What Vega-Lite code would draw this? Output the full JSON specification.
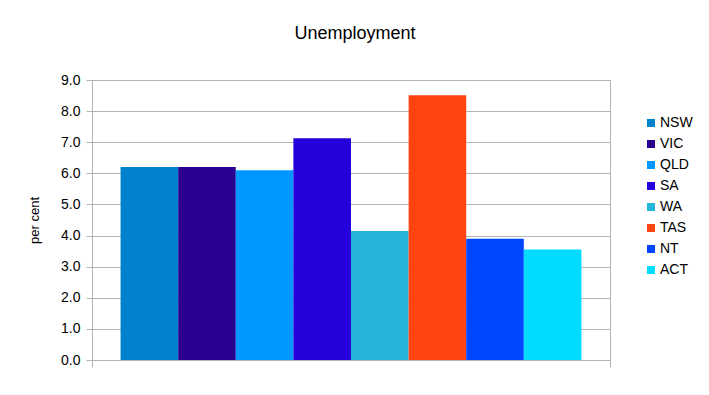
{
  "$schema": "https://vega.github.io/schema/vega-lite/v6.json",
  "width": 518,
  "height": 280,
  "autosize": {"type": "none"},
  "padding": {"left": 92, "top": 80, "right": 99, "bottom": 35},
  "background": "white",
  "config": {
    "font": "Liberation Sans",
    "view": {"stroke": "#b3b3b3", "strokeWidth": 1}
  },
  "title": {
    "text": "Unemployment",
    "fontSize": 18,
    "fontWeight": "normal",
    "color": "#000000",
    "font": "Liberation Sans",
    "anchor": "middle",
    "dx": 4,
    "offset": 30
  },
  "data": {
    "values": [
      {"group": "all", "state": "NSW", "rate": 6.2},
      {"group": "all", "state": "VIC", "rate": 6.2},
      {"group": "all", "state": "QLD", "rate": 6.1},
      {"group": "all", "state": "SA", "rate": 7.13},
      {"group": "all", "state": "WA", "rate": 4.15},
      {"group": "all", "state": "TAS", "rate": 8.51},
      {"group": "all", "state": "NT", "rate": 3.9},
      {"group": "all", "state": "ACT", "rate": 3.55}
    ]
  },
  "mark": {"type": "bar"},
  "encoding": {
    "x": {
      "field": "group",
      "type": "nominal",
      "scale": {"paddingInner": 0, "paddingOuter": 0},
      "axis": {
        "title": null,
        "labels": false,
        "ticks": true,
        "tickBand": "extent",
        "tickSize": 7,
        "tickColor": "#b3b3b3",
        "domainColor": "#b3b3b3"
      }
    },
    "xOffset": {
      "field": "state",
      "type": "nominal",
      "sort": ["NSW", "VIC", "QLD", "SA", "WA", "TAS", "NT", "ACT"],
      "scale": {"paddingInner": 0, "paddingOuter": 0.496}
    },
    "y": {
      "field": "rate",
      "type": "quantitative",
      "scale": {"domain": [0, 9], "nice": false},
      "axis": {
        "title": "per cent",
        "titleFontSize": 13,
        "titleFontWeight": "normal",
        "titleColor": "#000000",
        "titleX": -58,
        "titleY": 140,
        "titleAngle": -90,
        "titleAlign": "center",
        "titleBaseline": "middle",
        "values": [0, 1, 2, 3, 4, 5, 6, 7, 8, 9],
        "format": ".1f",
        "labelFontSize": 14,
        "labelColor": "#000000",
        "labelPadding": 6,
        "tickSize": 6,
        "tickColor": "#b3b3b3",
        "domainColor": "#b3b3b3",
        "gridColor": "#b3b3b3",
        "grid": true
      }
    },
    "color": {
      "field": "state",
      "type": "nominal",
      "sort": ["NSW", "VIC", "QLD", "SA", "WA", "TAS", "NT", "ACT"],
      "scale": {
        "domain": ["NSW", "VIC", "QLD", "SA", "WA", "TAS", "NT", "ACT"],
        "range": ["#0083cc", "#2a0090", "#0098ff", "#2400da", "#25b4da", "#ff4410", "#0045ff", "#00dbff"]
      },
      "legend": {
        "title": null,
        "orient": "none",
        "legendX": 552,
        "legendY": 36,
        "padding": 0,
        "symbolType": "square",
        "symbolSize": 64,
        "symbolStrokeWidth": 0,
        "labelFontSize": 14,
        "labelColor": "#000000",
        "labelOffset": 2,
        "rowPadding": 7
      }
    }
  }
}
